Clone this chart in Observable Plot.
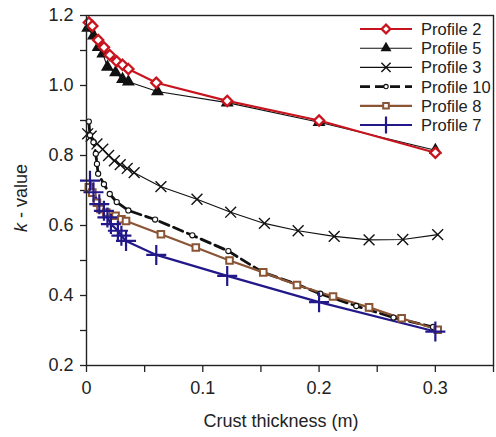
<!DOCTYPE html>
<html><head><meta charset="utf-8">
<script src="https://cdn.jsdelivr.net/npm/d3@7"></script>
<script src="https://cdn.jsdelivr.net/npm/@observablehq/plot@0.6"></script>
<style>
body{margin:0;background:#fff;font-family:"Liberation Sans",Arial,sans-serif;}
#wrap{position:relative;width:496px;height:437px;}
</style></head>
<body><div id="wrap"></div>
<script>
const seriesNames = ["Profile 2","Profile 5","Profile 3","Profile 10","Profile 8","Profile 7"];
const p2x = [0.002,0.005,0.010,0.015,0.020,0.026,0.031,0.036,0.060,0.121,0.200,0.300];
const p2y = [1.180,1.170,1.130,1.109,1.087,1.069,1.059,1.047,1.008,0.956,0.900,0.808];
const p5x = [0.001,0.006,0.010,0.014,0.018,0.025,0.031,0.036,0.061,0.121,0.200,0.300];
const p5y = [1.164,1.142,1.109,1.091,1.053,1.037,1.018,1.011,0.983,0.951,0.895,0.815];
const p3x = [0.001,0.004,0.009,0.014,0.019,0.024,0.029,0.035,0.041,0.064,0.095,0.124,0.153,0.182,0.213,0.243,0.272,0.302];
const p3y = [0.862,0.855,0.833,0.818,0.800,0.785,0.774,0.763,0.751,0.711,0.675,0.638,0.606,0.585,0.569,0.559,0.560,0.574];
const p10x = [0.002,0.003,0.006,0.008,0.009,0.010,0.015,0.020,0.026,0.036,0.059,0.091,0.122,0.151,0.181,0.201,0.232,0.264,0.298];
const p10y = [0.897,0.858,0.838,0.805,0.776,0.748,0.718,0.690,0.667,0.643,0.617,0.572,0.527,0.467,0.432,0.405,0.370,0.337,0.310];
const p8x = [0.002,0.005,0.009,0.012,0.017,0.025,0.030,0.034,0.064,0.094,0.123,0.152,0.181,0.212,0.243,0.271,0.302];
const p8y = [0.709,0.694,0.665,0.647,0.637,0.628,0.618,0.613,0.575,0.537,0.500,0.466,0.430,0.397,0.366,0.335,0.302];
const p7x = [0.003,0.006,0.011,0.015,0.018,0.021,0.027,0.030,0.034,0.060,0.121,0.200,0.300];
const p7y = [0.728,0.695,0.661,0.642,0.623,0.604,0.585,0.571,0.556,0.516,0.456,0.381,0.297];
const xTicks = [0,0.05,0.1,0.15,0.2,0.25,0.3,0.35];
const xTickLabels = ["0","","0.1","","0.2","","0.3",""];
const yTicks = [0.2,0.3,0.4,0.5,0.6,0.7,0.8,0.9,1.0,1.1,1.2];
const yTickLabels = ["0.2","","0.4","","0.6","","0.8","","1.0","","1.2"];

const toRows = (xs, ys) => xs.map((x,i)=>({x, y: ys[i]}));
const S = {
  "Profile 2": {data: toRows(p2x,p2y), color:"#c8141e", lw:2.2, symbol:"diamond2", r:4.6, fill:"white", sw:2.3},
  "Profile 5": {data: toRows(p5x,p5y), color:"#111", lw:1.1, symbol:"triangle", r:4.8, fill:"#111", sw:0},
  "Profile 3": {data: toRows(p3x,p3y), color:"#111", lw:1.1, symbol:"times", r:5, fill:"none", sw:1.4},
  "Profile 10": {data: toRows(p10x,p10y), color:"#111", lw:2.8, dash:"10,5", symbol:"circle", r:2.6, fill:"white", sw:1.1},
  "Profile 8": {data: toRows(p8x,p8y), color:"#8a5535", lw:2.2, symbol:"square2", r:4.2, fill:"white", sw:2},
  "Profile 7": {data: toRows(p7x,p7y), color:"#22188a", lw:2.2, symbol:"plus", r:6.5, fill:"none", sw:2.2}
};
const drawOrder = ["Profile 3","Profile 10","Profile 8","Profile 7","Profile 5","Profile 2"];
const marks = [];
for (const n of drawOrder) {
  const s = S[n];
  marks.push(Plot.line(s.data, {x:"x", y:"y", stroke:s.color, strokeWidth:s.lw, strokeDasharray:s.dash}));
}
for (const n of drawOrder) {
  const s = S[n];
  marks.push(Plot.dot(s.data, {x:"x", y:"y", symbol:()=>s.symbol, r:s.r, fill:s.fill, stroke:s.sw? s.color : "none", strokeWidth:s.sw}));
}
const chart = Plot.plot({
  width:496, height:437,
  marginLeft:86, marginRight:3, marginTop:15, marginBottom:72,
  style:{fontFamily:'"Liberation Sans",Arial,sans-serif', fontSize:"18px", color:"#222", background:"white"},
  x:{domain:[0,0.35]},
  y:{domain:[0.2,1.2]},
  symbol:{type:"identity"},
  marks:[
    Plot.axisX({ticks:xTicks, tickSize:7, tickPadding:9, tickFormat:(d,i)=>xTickLabels[i], label:null, stroke:"#222", strokeWidth:1.3}),
    Plot.axisY({ticks:yTicks, tickSize:6, tickPadding:7, tickFormat:(d,i)=>yTickLabels[i], label:null, stroke:"#222", strokeWidth:1.3}),
    ...marks,
    Plot.frame({stroke:"#222", strokeWidth:1.4})
  ]
});
document.getElementById("wrap").appendChild(chart);
const svg = d3.select(chart);
svg.append("text").attr("x",281).attr("y",427).attr("text-anchor","middle")
  .attr("font-size",18).attr("fill","#222").text("Crust thickness (m)");
const yl = svg.append("text").attr("transform","translate(27,198) rotate(-90)").attr("text-anchor","middle")
  .attr("font-size",18).attr("fill","#222");
yl.append("tspan").attr("font-style","italic").text("k");
yl.append("tspan").text(" - value");
// legend
const lg = svg.append("g");
seriesNames.forEach((n,i)=>{
  const s = S[n];
  const y = 29 + i*19.2;
  lg.append("line").attr("x1",360).attr("x2",412).attr("y1",y).attr("y2",y)
    .attr("stroke",s.color).attr("stroke-width",s.lw).attr("stroke-dasharray",s.dash||null);
  const sym = {diamond2:d3.symbolDiamond2,triangle:d3.symbolTriangle,times:d3.symbolTimes,circle:d3.symbolCircle,square2:d3.symbolSquare2,plus:d3.symbolPlus}[s.symbol];
  const rr = s.r*0.85;
  lg.append("path").attr("transform",`translate(386,${y})`).attr("d",d3.symbol(sym, Math.PI*rr*rr)())
    .attr("fill",s.fill).attr("stroke",s.sw? s.color:"none").attr("stroke-width",s.sw);
  lg.append("text").attr("x",421).attr("y",y).attr("dy","0.36em").attr("text-anchor","start")
    .attr("font-size",16.5).attr("fill","#222").text(n);
});
</script></body></html>
